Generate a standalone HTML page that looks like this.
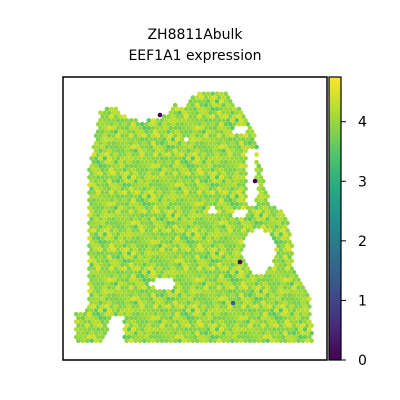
<!DOCTYPE html>
<html><head><meta charset="utf-8"><style>
body{margin:0;background:#fff;}
svg{display:block;font-family:"DejaVu Sans","Liberation Sans",sans-serif;}
</style></head><body>
<svg id="chart" width="400" height="400">
<defs><linearGradient id="vir" x1="0" y1="1" x2="0" y2="0">
<stop offset="0" stop-color="#440154"/><stop offset="0.125" stop-color="#472d7b"/><stop offset="0.25" stop-color="#3b528b"/><stop offset="0.375" stop-color="#2c728e"/><stop offset="0.5" stop-color="#21918c"/><stop offset="0.625" stop-color="#28ae80"/><stop offset="0.75" stop-color="#5ec962"/><stop offset="0.875" stop-color="#addc30"/><stop offset="1" stop-color="#fde725"/></linearGradient></defs>
<text x="195" y="39" text-anchor="middle" font-size="14">ZH8811Abulk</text>
<text x="195" y="60" text-anchor="middle" font-size="14">EEF1A1 expression</text>
<g id="spots"></g>
<rect x="63" y="77" width="264" height="283" fill="none" stroke="#000" stroke-width="1.5"/>
<rect x="329" y="77" width="12" height="283" fill="url(#vir)" stroke="#000" stroke-width="1.2"/>
<g id="cticks"></g>
</svg>
<script>
const tickValues=[0,1,2,3,4];
const vmin=0, vmax=4.75;
const valueCycle=[3.95,4.15,3.8,4.25,3.9,4.05,3.75,4.35,4.0,3.85,4.1,3.65,4.2,3.9,4.45,3.95,3.8,4.05,3.55,4.25];
const outliers=[[160,115,0],[255,181,0],[240,262,0.1],[233,303,1.5]];
const leftKnots=[[100,100],[130,97],[150,92],[170,89],[300,88],[318,85]];
const rightKnots=[[88,230],[105,236],[115,246],[130,255],[160,258],[170,262],[190,265],[205,272],[215,286],[240,292],[265,293],[275,300],[300,310],[345,313]];
const topKnots=[[96,112],[115,106],[130,120],[145,121],[160,118],[170,110],[175,102],[185,110],[195,94],[210,90],[228,92],[236,104],[246,120],[258,140]];
const holes=[[259,252,16,22],[163,284,13,5],[241,214,7,5],[252,190,6,10],[240,130,8,5],[212,210,4,3],[186,140,3,3]];
const cy=v=>360-(v-vmin)/(vmax-vmin)*283;
function interp(k,t){if(t<=k[0][0])return k[0][1];for(let i=1;i<k.length;i++){if(t<=k[i][0]){const a=k[i-1],b=k[i];return a[1]+(b[1]-a[1])*(t-a[0])/(b[0]-a[0]);}}return k[k.length-1][1];}
const stops=[[68,1,84],[71,45,123],[59,82,139],[44,114,142],[33,145,140],[40,174,128],[94,201,98],[173,220,48],[253,231,37]];
function vir(v){let t=Math.max(0,Math.min(1,(v-vmin)/(vmax-vmin)))*(stops.length-1);const i=Math.min(stops.length-2,Math.floor(t)),f=t-i;const c=stops[i].map((s,k)=>Math.round(s+(stops[i+1][k]-s)*f));return `rgb(${c})`;}
function inside(x,y){
  for(const h of holes){const dx=(x-h[0])/h[2],dy=(y-h[1])/h[3];if(dx*dx+dy*dy<1)return false;}
  if(x<124){ if(y>314&&y<342&&x>=76&&x<=112-(y-314)*0.3)return true;
    if(y>316)return false;}
  if(y>344)return false;
  if(y<interp(topKnots,x))return false;
  if(x<interp(leftKnots,y))return false;
  if(x>interp(rightKnots,y))return false;
  if(x>246&&x<256&&y>150&&y<205)return false;
  return true;}
const g=document.getElementById('spots');const NS='http://www.w3.org/2000/svg';
let r=0;
for(let y=90;y<=345;y+=3.8,r++){let c=0;
  for(let x=74+(r%2)*2.2;x<=316;x+=4.4,c++){
    if(!inside(x,y))continue;
    const v=valueCycle[(r*7+c*13+((r*c)%5))%valueCycle.length];
    const e=document.createElementNS(NS,'circle');
    e.setAttribute('cx',x);e.setAttribute('cy',y);e.setAttribute('r',2.3);e.setAttribute('fill',vir(v));
    
    
    g.appendChild(e);}}
for(const o of outliers){const e=document.createElementNS(NS,'circle');
  e.setAttribute('cx',o[0]);e.setAttribute('cy',o[1]);e.setAttribute('r',2.3);e.setAttribute('fill',vir(o[2]));
  
  
  g.appendChild(e);}
const tg=document.getElementById('cticks');
for(const t of tickValues){const y=cy(t);
  const l=document.createElementNS(NS,'line');l.setAttribute('x1',341);l.setAttribute('x2',346);l.setAttribute('y1',y);l.setAttribute('y2',y);l.setAttribute('stroke','#000');
  
  
  tg.appendChild(l);
  const tx=document.createElementNS(NS,'text');tx.setAttribute('x',358);tx.setAttribute('y',y+5);tx.setAttribute('font-size','14');tx.setAttribute('text-anchor','start');tx.textContent=t;
  
  
  tg.appendChild(tx);}
</script>
</body></html>
